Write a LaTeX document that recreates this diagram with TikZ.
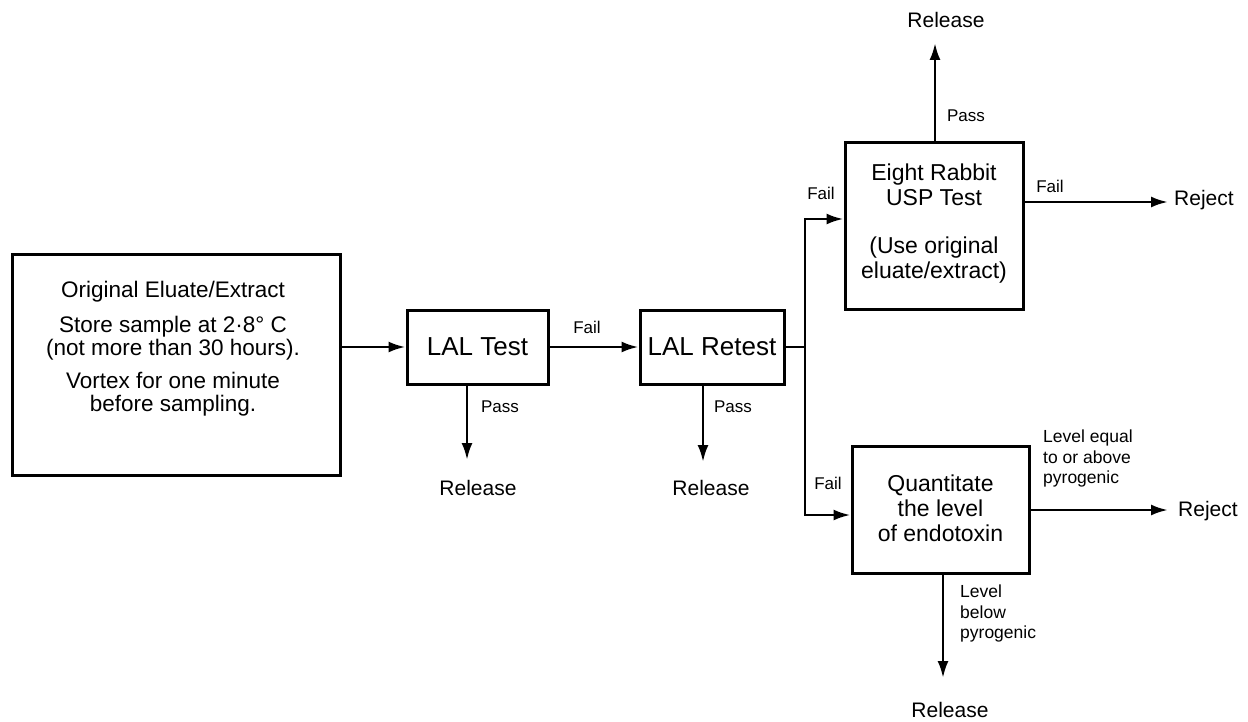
\documentclass[tikz,border=0pt]{standalone}
\usepackage{fontspec}
\setmainfont{Liberation Sans}
\usetikzlibrary{arrows.meta}
\begin{document}
\begin{tikzpicture}[x=1pt,y=-1pt,
  box/.style={draw,line width=3pt,inner sep=0pt},
  ln/.style={line width=2.7pt},
  arr/.style={line width=2.7pt,-{Latex[length=17pt,width=11pt]}},
  big/.style={font=\fontsize{22.5}{23}\selectfont,align=center,inner sep=0pt},
  lal/.style={font=\fontsize{26}{28}\selectfont,inner sep=0pt},
  mid/.style={font=\fontsize{23}{25}\selectfont,align=center,inner sep=0pt},
  lab/.style={font=\fontsize{17}{20}\selectfont,inner sep=0pt},
  small/.style={font=\fontsize{17.5}{20.5}\selectfont,align=left,inner sep=0pt},
  term/.style={font=\fontsize{21}{23}\selectfont,inner sep=0pt}]
\useasboundingbox (0,0) rectangle (1248,722);
\fill[white] (0,0) rectangle (1248,722);

% boxes
\node[box,minimum width=328pt,minimum height=220pt] (orig) at (176,365) {};
\node[big] (origtxt) at (173,349) {Original Eluate/Extract\\[12pt]Store sample at 2·8° C\\(not more than 30 hours).\\[10pt]Vortex for one minute\\before sampling.};
\node[box,lal,minimum width=141pt,minimum height=74pt] (lal) at (477.5,347) {LAL Test};
\node[box,lal,minimum width=144pt,minimum height=74pt] (lalr) at (712,347) {LAL Retest};
\node[box,minimum width=178pt,minimum height=166pt] (rab) at (934,226) {};
\node[mid] (rabtxt) at (934,224) {Eight Rabbit\\USP Test\\[23pt](Use original\\eluate/extract)};
\node[box,minimum width=177pt,minimum height=127pt] (quant) at (940.5,509.5) {};
\node[mid] (quanttxt) at (940.5,508) {Quantitate\\the level\\of endotoxin};

% terminals
\node[term] (rel1) at (478,488) {Release};
\node[term] (rel2) at (711,488) {Release};
\node[term] (rel3) at (946,20) {Release};
\node[term] (rel4) at (950,710) {Release};
\node[term,anchor=west] (rej1) at (1174,200) {Reject};
\node[term,anchor=west] (rej2) at (1178,511) {Reject};

% coordinates
\coordinate (t1) at (467,460);
\coordinate (t2) at (703,462);
\coordinate (j) at (805,347);
\coordinate (t3) at (935,43);
\coordinate (t4) at (1168,202);
\coordinate (t5) at (1168,510);
\coordinate (t6) at (943,678);

% connectors
\draw[arr] (orig.east |- lal.west) -- (lal.west);
\draw[arr] (lal.east) -- (lalr.west);
\draw[arr] (lal.south -| t1) -- (t1);
\draw[arr] (lalr.south -| t2) -- (t2);
\draw[ln] (lalr.east) -- (j);
\draw[arr] (j) |- ([yshift=7pt]rab.west);
\draw[arr] (j) |- ([yshift=-5.5pt]quant.west);
\draw[arr] (rab.north -| t3) -- (t3);
\draw[arr] (rab.east |- t4) -- (t4);
\draw[arr] (quant.east |- t5) -- (t5);
\draw[arr] (quant.south -| t6) -- (t6);

% labels
\node[lab] (f1) at (587,327) {Fail};
\node[lab] (p1) at (500,407) {Pass};
\node[lab] (p2) at (733,407) {Pass};
\node[lab] (f2) at (821,193) {Fail};
\node[lab] (f3) at (828,483) {Fail};
\node[lab] (p3) at (966,116) {Pass};
\node[lab] (f4) at (1050,186) {Fail};
\node[small,anchor=north west] (lv1) at (1043,430) {Level equal\\to or above\\pyrogenic};
\node[small,anchor=north west] (lv2) at (960,585) {Level\\below\\pyrogenic};
\end{tikzpicture}
\end{document}
